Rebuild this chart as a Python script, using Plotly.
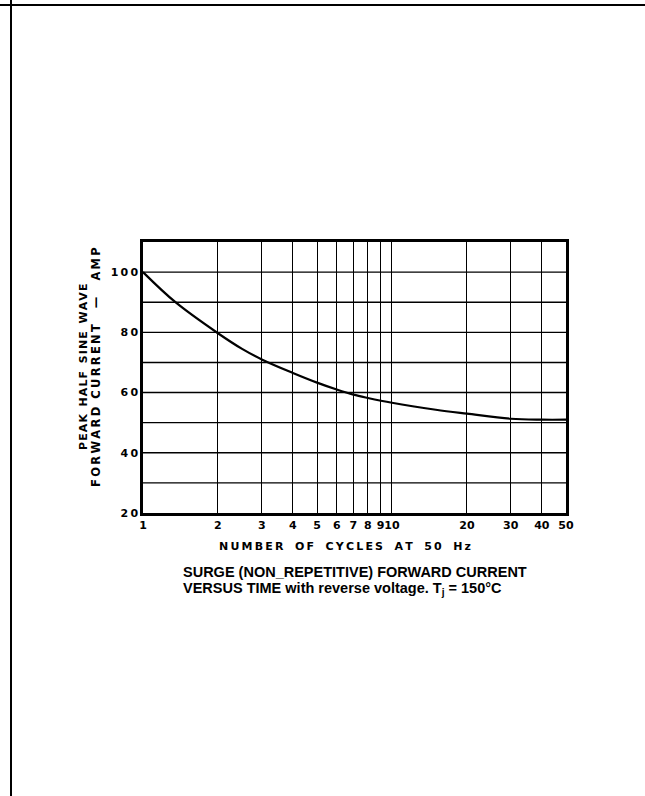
import plotly.graph_objects as go

# Data
cycles = [1, 1.35, 2, 2.5, 3, 4, 5, 6, 7, 8, 10, 15, 20, 30, 40, 50]
current = [100, 90, 79.7, 74.5, 71, 66.5, 63.3, 61, 59.3, 58.2, 56.6, 54.3, 53, 51.3, 51, 51]

x_ticks = [1, 2, 3, 4, 5, 6, 7, 8, 9, 10, 20, 30, 40, 50]
x_ticklabels = ["1", "2", "3", "4", "5", "6", "7", "8", "9", "10", "20", "30", "40", "50"]
y_ticks = [20, 40, 60, 80, 100]
y_ticklabels = ["2\u20090", "4\u20090", "6\u20090", "8\u20090", "1\u20090\u20090"]

W, H = 645, 796
L, R, T, B = 143, 79, 242, 283
pw, ph = W - L - R, H - T - B

NB = "\u00a0"

def px_x(p):
    return (p - L) / pw

def px_y(p):
    return (H - B - p) / ph

def spaced(s, gap=1, sep="\u2009"):
    # letter-spaced text: thin space between letters, non-breaking spaces between words
    return (NB * gap).join(sep.join(w) for w in s.split(" "))

fig = go.Figure()
fig.add_trace(go.Scatter(x=cycles, y=current, mode="lines", line=dict(color="black", width=2.2, shape="spline"),
                         showlegend=False, hoverinfo="skip"))

tickfont = dict(family="DejaVu Sans", size=11, color="black", weight="bold")
fig.update_xaxes(type="log", range=[0, 1.69897], tickvals=x_ticks, ticktext=x_ticklabels, tickangle=0,
                 showgrid=True, gridcolor="black", gridwidth=1.4, showline=True, linecolor="black",
                 linewidth=2.5, mirror=True, ticks="", tickfont=tickfont, zeroline=False)
fig.update_yaxes(range=[20, 110], tickvals=y_ticks, ticktext=y_ticklabels, showgrid=False,
                 showline=True, linecolor="black", linewidth=2.5, mirror=True, ticks="",
                 tickfont=tickfont, zeroline=False)

# horizontal gridlines every 10 A
for v in [30, 40, 50, 60, 70, 80, 90, 100]:
    fig.add_shape(type="line", xref="paper", yref="y", x0=0, x1=1, y0=v, y1=v,
                  line=dict(color="black", width=1.4), layer="below")

# page border lines
fig.add_shape(type="line", xref="paper", yref="paper", x0=px_x(11), x1=px_x(11), y0=px_y(0), y1=px_y(H),
              line=dict(color="black", width=2))
fig.add_shape(type="line", xref="paper", yref="paper", x0=px_x(0), x1=px_x(W), y0=px_y(5), y1=px_y(5),
              line=dict(color="black", width=2))

def note(x, y, text, size=11, family="DejaVu Sans", angle=0, xanchor="center"):
    fig.add_annotation(xref="paper", yref="paper", x=px_x(x), y=px_y(y), text=text, textangle=angle,
                       xanchor=xanchor, yanchor="middle", showarrow=False,
                       font=dict(family=family, size=size, color="black", weight="bold"))

note(83, 367, spaced("PEAK HALF SINE WAVE", 2, "\u200a"), size=11, angle=-90)
note(96, 367, spaced("FORWARD CURRENT", 2) + NB * 4 + "—" + NB * 4 + spaced("AMP"),
     size=11.5, angle=-90)
note(345, 546, spaced("NUMBER OF CYCLES AT 50 Hz", 3), size=11)
note(181, 572, "SURGE (NON_REPETITIVE) FORWARD CURRENT", size=14.5, family="Liberation Sans", xanchor="left")
note(181, 589, "VERSUS TIME with reverse voltage. T<sub>j</sub> = 150°C", size=14.5, family="Liberation Sans",
     xanchor="left")

fig.update_layout(width=W, height=H, margin=dict(l=L, r=R, t=T, b=B), plot_bgcolor="white",
                  paper_bgcolor="white", showlegend=False)
fig.write_html("out.html", config={"displayModeBar": False},
               post_script="document.body.style.margin='0px';")
